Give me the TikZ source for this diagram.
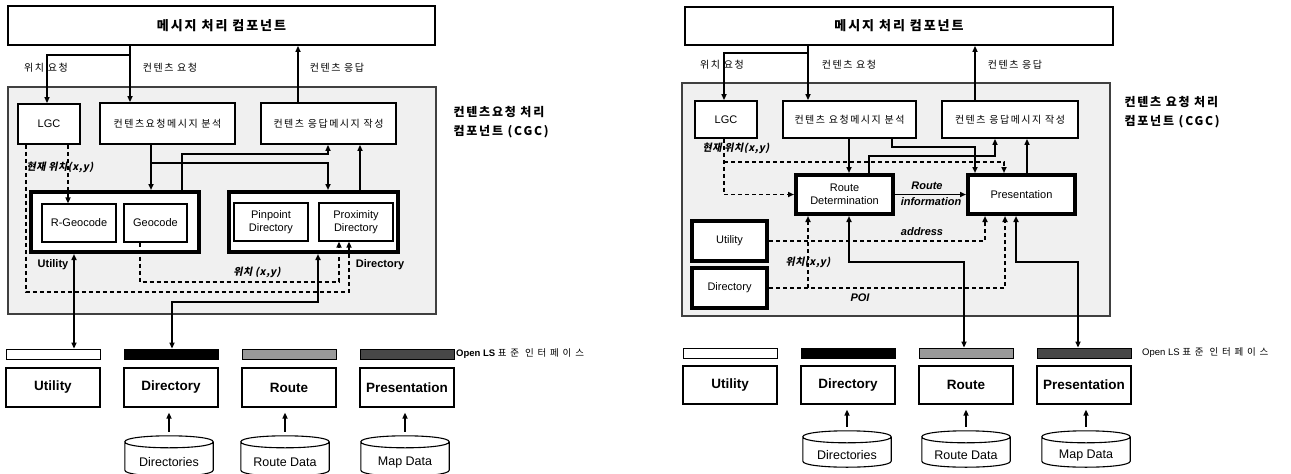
\documentclass[tikz,border=0pt]{standalone}
\usepackage{fontspec}
\setmainfont{Liberation Sans}
\newfontfamily\kr[LetterSpace=15]{Noto Sans CJK KR}
\newfontfamily\krwide[LetterSpace=40]{Noto Sans CJK KR}
\newfontfamily\krit[FakeSlant=0.2,LetterSpace=5]{Noto Sans CJK KR}
\usetikzlibrary{arrows.meta}

\begin{document}
\begin{tikzpicture}[x=1pt,y=-1pt,
    cgcbox/.style={draw=black!75,line width=1.2pt,fill=black!6},
    box/.style={draw,line width=1.8pt,fill=white,inner sep=0pt,align=center,font=\fontsize{10}{12}\selectfont},
    tbox/.style={box,line width=4pt},
    sbox/.style={box,line width=1.2pt,font=\fontsize{11}{13}\selectfont},
    bar/.style={draw,line width=0.8pt,minimum width=94pt,minimum height=10pt,inner sep=0pt},
    ibox/.style={draw,line width=1.2pt,minimum width=94pt,inner sep=0pt,font=\fontsize{13.5}{15}\selectfont\bfseries},
    drum/.style={minimum width=88pt,inner sep=0pt,font=\fontsize{12.5}{14}\selectfont},
    lab/.style={inner sep=0pt,font=\fontsize{10}{12}\selectfont},
    arr/.style={line width=1.5pt,-{Triangle[length=6pt,width=5pt]}},
    darr/.style={arr,dash pattern=on 4pt off 3pt},
    twoway/.style={line width=1.5pt,{Triangle[length=6pt,width=5pt]}-{Triangle[length=6pt,width=5pt]}}
]
\useasboundingbox (0,0) rectangle (1291,474);

% left: LGC / utility / directory
\node[box,minimum width=427pt,minimum height=39pt] (lmsg) at (221.5,25.5) {\fontsize{13}{15}\kr\bfseries 메시지 처리 컴포넌트};
\node[cgcbox,minimum width=428pt,minimum height=227pt] (lcgc) at (222,200.5) {};
\node[anchor=west,align=left,font=\fontsize{12}{19}\kr\bfseries] (lcgct) at (450,122.5) {컨텐츠요청 처리\\컴포넌트 (CGC)};
\node[box,font=\fontsize{11}{13}\selectfont,minimum width=62pt,minimum height=40pt] (llgc) at (49,124) {LGC};
\node[box,minimum width=135pt,minimum height=41pt] (lreq) at (167.5,123.5) {\kr 컨텐츠요청메시지 분석};
\node[box,minimum width=135pt,minimum height=41pt] (lres) at (328.5,123.5) {\kr 컨텐츠 응답메시지 작성};
\node[tbox,minimum width=168pt,minimum height=60pt] (lutil) at (115,222) {};
\node[sbox,minimum width=74pt,minimum height=38pt] (lrgeo) at (79,223) {R-Geocode};
\node[sbox,minimum width=63pt,minimum height=38pt] (lgeo) at (155.5,223) {Geocode};
\node[tbox,minimum width=169pt,minimum height=60pt] (ldir) at (313.5,222) {};
\node[sbox,minimum width=74pt,minimum height=38pt] (lpin) at (271,222) {Pinpoint\\Directory};
\node[sbox,minimum width=74pt,minimum height=38pt] (lprox) at (356,222) {Proximity\\Directory};
\node[lab,font=\fontsize{11}{13}\bfseries] (lutilt) at (53,265) {Utility};
\node[lab,font=\fontsize{11}{13}\bfseries] (ldirt) at (380,265) {Directory};
\node[lab] (lposq) at (46,68) {\kr 위치 요청};
\node[lab] (lreqq) at (170,68) {\kr 컨텐츠 요청};
\node[lab] (lresq) at (337,68) {\kr 컨텐츠 응답};
\node[lab] (lcur) at (60,167) {\krit\bfseries 현재 위치(x,y)};
\node[lab] (lxy) at (257,272) {\krit\bfseries 위치 (x,y)};

\draw[arr] (130,0 |- lmsg.south) -- (130,0 |- lreq.north);
\draw[arr] (130,55) -- (47,55) -- (47,0 |- llgc.north);
\draw[arr] (298,0 |- lres.north) -- (298,0 |- lmsg.south);
\draw[arr] (151,0 |- lreq.south) -- (151,0 |- lutil.north);
\draw[arr] (151,163) -- (328,163) -- (328,0 |- ldir.north);
\draw[arr] (182,0 |- lutil.north) -- (182,154) -- (328,154) -- (328,0 |- lres.south);
\draw[arr] (360,0 |- ldir.north) -- (360,0 |- lres.south);
\draw[darr] (68,0 |- llgc.south) -- (68,0 |- lrgeo.north);
\draw[darr] (26,0 |- llgc.south) -- (26,292) -- (349,292) -- (349,0 |- lprox.south);
\draw[darr] (140,0 |- lgeo.south) -- (140,282) -- (339,282) -- (339,0 |- lprox.south);

% left: Open LS interfaces
\node[bar,fill=white] (lbar1) at (53,354) {};
\node[bar,fill=black] (lbar2) at (171,354) {};
\node[bar,fill=black!40] (lbar3) at (289,354) {};
\node[bar,fill=black!72] (lbar4) at (407,354) {};
\node[anchor=west,inner sep=0pt,font=\fontsize{9.5}{11}\bfseries] (lols) at (456,354) {Open LS {\krwide\mdseries 표준 인터페이스}};
\node[ibox,minimum height=39pt] (lbx1) at (53,387.5) {Utility};
\node[ibox,minimum height=39pt] (lbx2) at (171,387.5) {Directory};
\node[ibox,minimum height=39pt] (lbx3) at (289,387.5) {Route};
\node[ibox,minimum height=39pt] (lbx4) at (407,387.5) {Presentation};
\node[drum,minimum height=40pt,label={[yshift=-6pt,font=\fontsize{12.5}{14}\selectfont]center:Directories}] (ldb1) at (169,456) {};
\node[drum,minimum height=40pt,label={[yshift=-6pt,font=\fontsize{12.5}{14}\selectfont]center:Route Data}] (ldb2) at (285,456) {};
\node[drum,minimum height=40pt,label={[yshift=-6pt,font=\fontsize{12.5}{14}\selectfont]center:Map Data}] (ldb3) at (405,456) {};

\draw[twoway] (74,0 |- lutil.south) -- (74,0 |- lbar1.north);
\draw[twoway] (318,0 |- ldir.south) -- (318,302) -- (172,302) -- (172,0 |- lbar2.north);
\foreach \i in {1,2,3}
  \draw[arr,shorten <=4pt,shorten >=5pt] (ldb\i.north) -- (ldb\i.north |- lbx\i.south);

% right: route determination / presentation
\node[box,minimum width=428pt,minimum height=38pt] (rmsg) at (899,26) {\fontsize{13}{15}\kr\bfseries 메시지 처리 컴포넌트};
\node[cgcbox,minimum width=428pt,minimum height=233pt] (rcgc) at (896,199.5) {};
\node[anchor=west,align=left,font=\fontsize{12}{19}\kr\bfseries] (rcgct) at (1121,112.5) {컨텐츠 요청 처리\\컴포넌트 (CGC)};
\node[box,font=\fontsize{11}{13}\selectfont,minimum width=62pt,minimum height=37pt] (rlgc) at (726,119.5) {LGC};
\node[box,minimum width=133pt,minimum height=37pt] (rreq) at (849.5,119.5) {\kr 컨텐츠 요청메시지 분석};
\node[box,minimum width=136pt,minimum height=37pt] (rres) at (1010,119.5) {\kr 컨텐츠 응답메시지 작성};
\node[tbox,font=\fontsize{11}{13}\selectfont,minimum width=97pt,minimum height=39pt] (rroute) at (844.5,194.5) {Route\\Determination};
\node[tbox,font=\fontsize{11}{13}\selectfont,minimum width=107pt,minimum height=39pt] (rpres) at (1021.5,194.5) {Presentation};
\node[tbox,font=\fontsize{11}{13}\selectfont,minimum width=75pt,minimum height=40pt] (rutil) at (729.5,241) {Utility};
\node[tbox,font=\fontsize{11}{13}\selectfont,minimum width=75pt,minimum height=40pt] (rdir) at (729.5,288) {Directory};
\node[lab] (rposq) at (722,65) {\kr 위치 요청};
\node[lab] (rreqq) at (849,65) {\kr 컨텐츠 요청};
\node[lab] (rresq) at (1015,65) {\kr 컨텐츠 응답};
\node[lab] (rcur) at (736,148) {\krit\bfseries 현재 위치(x,y)};
\node[lab,font=\fontsize{11}{13}\bfseries\itshape] (rinf1) at (927,186) {Route};
\node[lab,font=\fontsize{11}{13}\bfseries\itshape] (rinf2) at (931,202) {information};
\node[lab,font=\fontsize{11}{13}\bfseries\itshape] (raddr) at (922,232) {address};
\node[lab] (rxy) at (808,262) {\krit\bfseries 위치(x,y)};
\node[lab,font=\fontsize{11}{13}\bfseries\itshape] (rpoi) at (860,298) {POI};

\draw[arr] (808,0 |- rmsg.south) -- (808,0 |- rreq.north);
\draw[arr] (808,53) -- (724,53) -- (724,0 |- rlgc.north);
\draw[arr] (975,0 |- rres.north) -- (975,0 |- rmsg.south);
\draw[arr] (849,0 |- rreq.south) -- (849,0 |- rroute.north);
\draw[arr] (892,0 |- rreq.south) -- (892,147) -- (975,147) -- (975,0 |- rpres.north);
\draw[arr] (869,0 |- rroute.north) -- (869,156) -- (995,156) -- (995,0 |- rres.south);
\draw[arr] (1027,0 |- rpres.north) -- (1027,0 |- rres.south);
\draw[arr] (rroute.east) -- (rroute.east -| rpres.west);
\draw[darr] (724,0 |- rlgc.south) |- (rroute.west);
\draw[darr] (724,162) -- (1004,162) -- (1004,0 |- rpres.north);
\draw[darr] (rutil.east) -| (985,0 |- rpres.south);
\draw[darr] (rdir.east) -| (1005,0 |- rpres.south);
\draw[darr] (808,0 |- rdir.east) -- (808,0 |- rroute.south);

% right: Open LS interfaces
\node[bar,fill=white] (rbar1) at (730,353) {};
\node[bar,fill=black] (rbar2) at (848,353) {};
\node[bar,fill=black!40] (rbar3) at (966,353) {};
\node[bar,fill=black!72] (rbar4) at (1084,353) {};
\node[anchor=west,inner sep=0pt,font=\fontsize{9.5}{11}\selectfont] (rols) at (1142,353) {Open LS {\krwide 표준 인터페이스}};
\node[ibox,minimum height=38pt] (rbx1) at (730,385) {Utility};
\node[ibox,minimum height=38pt] (rbx2) at (848,385) {Directory};
\node[ibox,minimum height=38pt] (rbx3) at (966,385) {Route};
\node[ibox,minimum height=38pt] (rbx4) at (1084,385) {Presentation};
\node[drum,minimum height=36pt,label={[yshift=-6pt,font=\fontsize{12.5}{14}\selectfont]center:Directories}] (rdb1) at (847,449) {};
\node[drum,minimum height=36pt,label={[yshift=-6pt,font=\fontsize{12.5}{14}\selectfont]center:Route Data}] (rdb2) at (966,449) {};
\node[drum,minimum height=36pt,label={[yshift=-6pt,font=\fontsize{12.5}{14}\selectfont]center:Map Data}] (rdb3) at (1086,449) {};

\draw[twoway] (849,0 |- rroute.south) -- (849,262) -- (964,262) -- (964,0 |- rbar3.north);
\draw[twoway] (1016,0 |- rpres.south) -- (1016,262) -- (1078,262) -- (1078,0 |- rbar4.north);
\foreach \i in {1,2,3}
  \draw[arr,shorten <=4pt,shorten >=5pt] (rdb\i.north) -- (rdb\i.north |- rbx\i.south);

% drums
\foreach \c in {ldb1,ldb2,ldb3,rdb1,rdb2,rdb3} {
  \draw[line width=1.1pt] ([yshift=-6pt]\c.north west) -- ([yshift=6pt]\c.south west)
    .. controls ([yshift=-2pt]\c.south west) and ([yshift=-2pt]\c.south east) .. ([yshift=6pt]\c.south east)
    -- ([yshift=-6pt]\c.north east)
    .. controls ([yshift=2pt]\c.north east) and ([yshift=2pt]\c.north west) .. ([yshift=-6pt]\c.north west)
    .. controls ([yshift=-14pt]\c.north west) and ([yshift=-14pt]\c.north east) .. ([yshift=-6pt]\c.north east);
}
\end{tikzpicture}
\end{document}
